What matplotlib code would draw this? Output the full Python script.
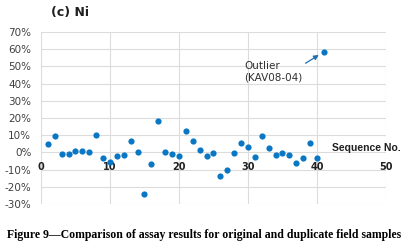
import matplotlib.pyplot as plt
import numpy as np

# sequence numbers and relative difference (%) between original and duplicate
seq = np.arange(1, 42)
diff = [5, 9.5, -1, -0.8, 1, 1, 0, 10, -3, -5.5,
        -2, -1.5, 6.5, 0, -24, -6.8, 18, 0.2, -1, -2,
        12.7, 6.4, 1.2, -2, -0.6, -14, -10.5, -0.6, 5.5, 3.3,
        -2.5, 9.6, 2.3, -1.5, -0.4, -1.4, -6, -3.5, 5.3, -3.5,
        58.5]
yticks = np.arange(-30, 71, 10)
xticks = [0, 10, 20, 30, 40, 50]

fig = plt.figure(figsize=(4.09, 2.48), dpi=100)
ax = fig.add_axes([0.1002, 0.1774, 0.8435, 0.6935])

ax.scatter(seq, diff, s=20, color='#0A77C4', zorder=3, linewidths=0)

ax.set_xlim(0, 50)
ax.set_ylim(-30, 70)
ax.set_xticks(xticks)
ax.set_yticks(yticks)
ax.set_yticklabels([str(v) + '%' for v in yticks])
ax.grid(color='#DCDCDC', linewidth=0.8)
ax.set_axisbelow(True)

# x axis crosses at 0
for s in ['top', 'left', 'right']:
    ax.spines[s].set_visible(False)
ax.spines['bottom'].set_position(('data', 0))
ax.spines['bottom'].set_color('none')
ax.tick_params(axis='both', length=0, colors='#404040')
ax.tick_params(axis='y', pad=7, labelsize=7.5)
ax.tick_params(axis='x', pad=7, labelsize=7)
for lab in ax.get_xticklabels():
    lab.set_fontweight('bold')
    lab.set_color('#202020')

ax.text(42.2, 2.8, 'Sequence No.', fontsize=7.5, fontweight='bold', va='center', ha='left',
        family='Liberation Sans', color='#202020', clip_on=False)

ax.annotate('Outlier\n(KAV08-04)', xy=(40.6, 57.5), xytext=(29.5, 47),
            fontsize=7.5, color='#303030', va='center', ha='left',
            arrowprops=dict(arrowstyle='-|>', color='#1F6FB0', lw=0.9,
                            shrinkA=0, shrinkB=2, mutation_scale=7,
                            relpos=(0.95, 0.72)))

fig.text(0.125, 0.95, '(c) Ni', fontsize=9, fontweight='bold', va='center', color='#202020')

fig.text(0.5, 0.053, 'Figure 9\u2014Comparison of assay results for original and duplicate field samples',
         fontsize=8.5, family='Liberation Serif', fontweight='bold', ha='center', va='center')

fig.savefig('out.png', dpi=100)
